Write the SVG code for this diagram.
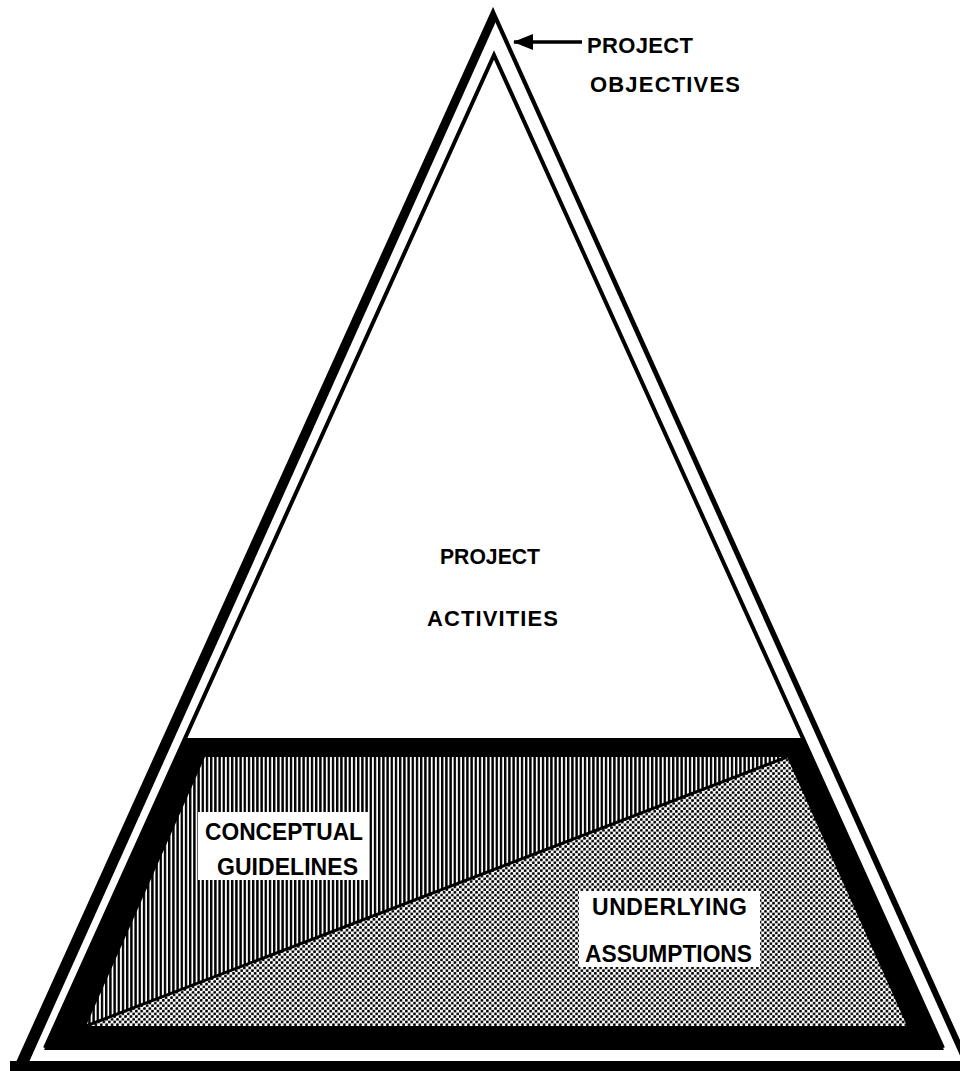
<svg xmlns="http://www.w3.org/2000/svg" width="960" height="1071" viewBox="0 0 960 1071">
  <style>
    .lbl { font-family: "Liberation Sans", Arial, sans-serif; font-weight: bold; fill: #000; }
    .ink { fill: #000; }
    .thin { fill: none; stroke: #000; }
  </style>
  <defs>
    <pattern id="hatch" patternUnits="userSpaceOnUse" width="4.2" height="4">
      <rect width="4.2" height="4" fill="#fff"/>
      <rect width="2.4" height="4" fill="#000"/>
    </pattern>
    <pattern id="dots" patternUnits="userSpaceOnUse" width="5.4" height="5.4">
      <rect width="5.4" height="5.4" fill="#fff"/>
      <circle cx="1.35" cy="1.35" r="1.45" fill="#000"/>
      <circle cx="4.05" cy="4.05" r="1.45" fill="#000"/>
    </pattern>
    <marker id="arrowhead" markerWidth="20" markerHeight="16" refX="19" refY="8" orient="auto" markerUnits="userSpaceOnUse">
      <polygon points="20,8 0,0 0,16" fill="#000"/>
    </marker>
  </defs>
  <rect width="960" height="1071" fill="#fff"/>

  <g id="outer-triangle">
    <polygon class="ink" points="493,7 12,1071 25,1071 497,19"/>
    <polygon class="ink" points="493,7 974,1071 967,1071 493,17"/>
    <rect class="ink" x="10" y="1061" width="950" height="10"/>
  </g>

  <g id="inner-triangle">
    <path class="thin" stroke-width="4" d="M45,1048 L494,55 L943,1048"/>
  </g>

  <g id="base-trapezoid">
    <polygon class="ink" points="185,738 803,738 944,1050 44,1050"/>
    <polygon fill="url(#hatch)" points="205,757 787,757 86,1026"/>
    <polygon fill="url(#dots)" points="787,757 907,1026 86,1026"/>
    <line x1="86" y1="1026" x2="787" y2="757" stroke="#000" stroke-width="3"/>
  </g>

  <g id="connectors">
    <line x1="582" y1="42" x2="514" y2="42" stroke="#000" stroke-width="3.5" marker-end="url(#arrowhead)"/>
  </g>

  <g id="node-objectives">
    <text class="lbl" x="587" y="53" font-size="22" textLength="106" lengthAdjust="spacing">PROJECT</text>
    <text class="lbl" x="590" y="92" font-size="22" textLength="150" lengthAdjust="spacing">OBJECTIVES</text>
  </g>

  <g id="node-activities">
    <text class="lbl" x="440" y="564" font-size="22" textLength="100" lengthAdjust="spacingAndGlyphs">PROJECT</text>
    <text class="lbl" x="427" y="626" font-size="22" textLength="131" lengthAdjust="spacing">ACTIVITIES</text>
  </g>

  <g id="node-conceptual">
    <rect x="198" y="812" width="170" height="68" fill="#fff"/>
    <text class="lbl" x="205" y="840" font-size="23" textLength="158" lengthAdjust="spacingAndGlyphs">CONCEPTUAL</text>
    <text class="lbl" x="217" y="875" font-size="23" textLength="141" lengthAdjust="spacing">GUIDELINES</text>
  </g>

  <g id="node-assumptions">
    <rect x="579" y="891" width="181" height="76" fill="#fff"/>
    <text class="lbl" x="592" y="915" font-size="23" textLength="155" lengthAdjust="spacing">UNDERLYING</text>
    <text class="lbl" x="585" y="962" font-size="23" textLength="167" lengthAdjust="spacingAndGlyphs">ASSUMPTIONS</text>
  </g>
</svg>
